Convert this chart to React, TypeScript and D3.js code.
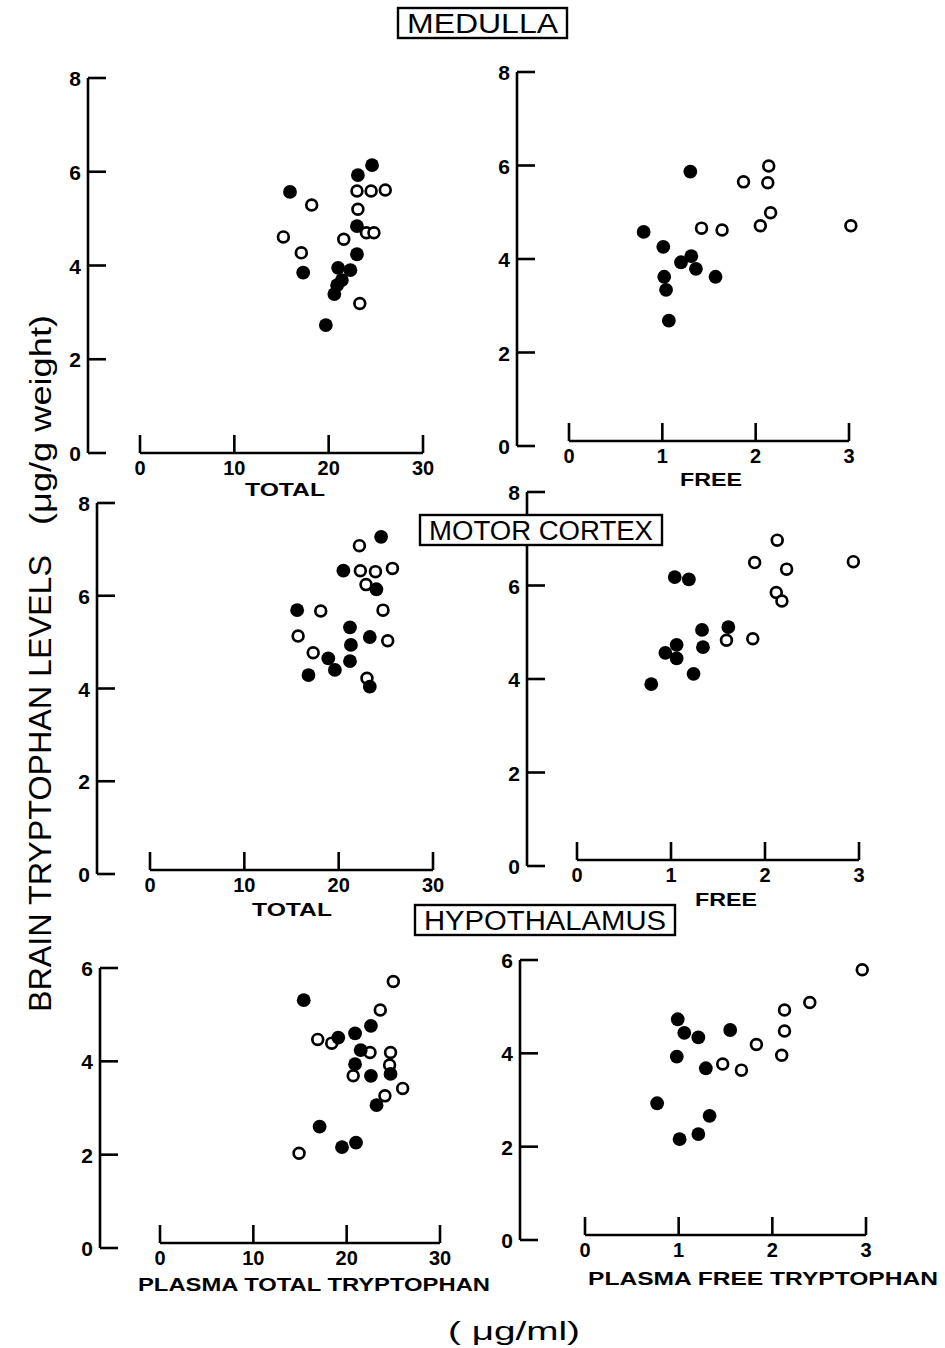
import React from "react";
import * as d3 from "d3";

// ---- data (x = plasma tryptophan µg/ml, y = brain tryptophan µg/g) ----
const medullaTotalFilled: [number, number][] = [
  [24.6, 6.14], [23.1, 5.93], [15.9, 5.57], [23.0, 4.84], [23.0, 4.24], [21.0, 3.95],
  [22.3, 3.9], [17.3, 3.85], [21.4, 3.69], [20.9, 3.58], [20.6, 3.39], [19.7, 2.73],
];
const medullaTotalOpen: [number, number][] = [
  [23.0, 5.59], [24.5, 5.59], [26.0, 5.61], [18.2, 5.29], [23.1, 5.2], [24.0, 4.7],
  [24.8, 4.7], [15.2, 4.61], [21.6, 4.56], [17.1, 4.27], [23.3, 3.19],
];
const medullaFreeFilled: [number, number][] = [
  [1.3, 5.87], [0.8, 4.58], [1.01, 4.26], [1.31, 4.06], [1.2, 3.93], [1.36, 3.79],
  [1.57, 3.62], [1.02, 3.62], [1.04, 3.34], [1.07, 2.68],
];
const medullaFreeOpen: [number, number][] = [
  [2.14, 5.99], [2.13, 5.63], [1.87, 5.65], [2.16, 4.99], [2.05, 4.71], [1.42, 4.66],
  [1.64, 4.62], [3.02, 4.71],
];
const motorTotalFilled: [number, number][] = [
  [24.5, 7.27], [20.5, 6.54], [24.0, 6.14], [15.6, 5.69], [21.2, 5.32], [23.3, 5.11],
  [21.3, 4.94], [18.9, 4.65], [19.6, 4.4], [21.2, 4.59], [16.8, 4.29], [23.3, 4.04],
];
const motorTotalOpen: [number, number][] = [
  [22.2, 7.08], [22.3, 6.54], [23.9, 6.52], [25.7, 6.59], [22.9, 6.24], [18.1, 5.67],
  [24.7, 5.69], [15.7, 5.13], [25.2, 5.03], [17.3, 4.77], [23.0, 4.22],
];
const motorFreeFilled: [number, number][] = [
  [1.04, 6.18], [1.19, 6.13], [1.61, 5.11], [1.33, 5.05], [1.06, 4.73], [1.34, 4.68],
  [0.94, 4.56], [1.06, 4.44], [1.24, 4.11], [0.79, 3.89],
];
const motorFreeOpen: [number, number][] = [
  [2.13, 6.97], [1.89, 6.49], [2.94, 6.51], [2.23, 6.35], [2.12, 5.85], [2.18, 5.67],
  [1.59, 4.83], [1.87, 4.86],
];
const hypoTotalFilled: [number, number][] = [
  [15.4, 5.31], [19.1, 4.51], [20.9, 4.6], [22.6, 4.76], [21.5, 4.24], [20.9, 3.94],
  [22.6, 3.69], [24.7, 3.73], [23.2, 3.06], [17.1, 2.6], [19.5, 2.16], [21.0, 2.26],
];
const hypoTotalOpen: [number, number][] = [
  [25.0, 5.71], [23.6, 5.1], [16.9, 4.47], [18.4, 4.39], [22.5, 4.19], [24.7, 4.19],
  [24.6, 3.92], [20.7, 3.69], [26.0, 3.42], [24.1, 3.26], [14.9, 2.03],
];
const hypoFreeFilled: [number, number][] = [
  [0.99, 4.73], [1.06, 4.44], [1.21, 4.34], [1.55, 4.5], [0.98, 3.93], [1.29, 3.68],
  [0.77, 2.93], [1.33, 2.66], [1.21, 2.27], [1.01, 2.16],
];
const hypoFreeOpen: [number, number][] = [
  [2.96, 5.79], [2.4, 5.09], [2.13, 4.93], [2.13, 4.48], [1.83, 4.19], [2.1, 3.96],
  [1.47, 3.77], [1.67, 3.64],
];

const totalTicks = [0, 10, 20, 30];
const freeTicks = [0, 1, 2, 3];
const yTicks8 = [0, 2, 4, 6, 8];
const yTicks6 = [0, 2, 4, 6];

const regionTitles = ["MEDULLA", "MOTOR CORTEX", "HYPOTHALAMUS"];
const xTitles = ["TOTAL", "FREE", "TOTAL", "FREE", "PLASMA TOTAL TRYPTOPHAN", "PLASMA FREE TRYPTOPHAN"];
const yTitleMain = "BRAIN TRYPTOPHAN LEVELS";
const yTitleUnit = "(\u03BCg/g  weight)";
const xUnit = "( \u03BCg/ml)";

// ---- layout ----
type PanelCfg = {
  filled: [number, number][];
  open: [number, number][];
  xTicks: number[];
  yTicks: number[];
  yAxisX: number; yBottom: number; yTop: number;
  xAxisY: number; xLeft: number; xRight: number;
  title: string; titleX: number; titleY: number; titleLen: number;
};

const panels: PanelCfg[] = [
  { filled: medullaTotalFilled, open: medullaTotalOpen, xTicks: totalTicks, yTicks: yTicks8,
    yAxisX: 88, yBottom: 453, yTop: 78, xAxisY: 453, xLeft: 140, xRight: 423,
    title: xTitles[0], titleX: 285, titleY: 496, titleLen: 80 },
  { filled: medullaFreeFilled, open: medullaFreeOpen, xTicks: freeTicks, yTicks: yTicks8,
    yAxisX: 517, yBottom: 446, yTop: 72, xAxisY: 441, xLeft: 569, xRight: 849,
    title: xTitles[1], titleX: 711, titleY: 486, titleLen: 62 },
  { filled: motorTotalFilled, open: motorTotalOpen, xTicks: totalTicks, yTicks: yTicks8,
    yAxisX: 97, yBottom: 874, yTop: 503, xAxisY: 870, xLeft: 150, xRight: 433,
    title: xTitles[2], titleX: 292, titleY: 916, titleLen: 80 },
  { filled: motorFreeFilled, open: motorFreeOpen, xTicks: freeTicks, yTicks: yTicks8,
    yAxisX: 527, yBottom: 866, yTop: 492, xAxisY: 860, xLeft: 577, xRight: 859,
    title: xTitles[3], titleX: 726, titleY: 906, titleLen: 62 },
  { filled: hypoTotalFilled, open: hypoTotalOpen, xTicks: totalTicks, yTicks: yTicks6,
    yAxisX: 100, yBottom: 1248, yTop: 968, xAxisY: 1243, xLeft: 160, xRight: 440,
    title: xTitles[4], titleX: 314, titleY: 1291, titleLen: 352 },
  { filled: hypoFreeFilled, open: hypoFreeOpen, xTicks: freeTicks, yTicks: yTicks6,
    yAxisX: 520, yBottom: 1240, yTop: 960, xAxisY: 1235, xLeft: 585, xRight: 866,
    title: xTitles[5], titleX: 763, titleY: 1285, titleLen: 350 },
];

const boxes = [
  { text: regionTitles[0], x: 398, y: 8, w: 169, h: 30 },
  { text: regionTitles[1], x: 420, y: 515, w: 242, h: 30 },
  { text: regionTitles[2], x: 415, y: 905, w: 260, h: 30 },
];

const FONT = "'Liberation Sans', Arial, sans-serif";
const SW = 2.6;

function Panel({ p }: { p: PanelCfg }) {
  const xMax = p.xTicks[p.xTicks.length - 1];
  const yMax = p.yTicks[p.yTicks.length - 1];
  const x = d3.scaleLinear().domain([0, xMax]).range([p.xLeft, p.xRight]);
  const y = d3.scaleLinear().domain([0, yMax]).range([p.yBottom, p.yTop]);
  return (
    <g>
      {/* y axis */}
      <line x1={p.yAxisX} x2={p.yAxisX} y1={y(0)} y2={y(yMax)} stroke="#000" strokeWidth={SW} />
      {p.yTicks.map((t) => (
        <g key={"yt" + t}>
          <line x1={p.yAxisX} x2={p.yAxisX + 18} y1={y(t)} y2={y(t)} stroke="#000" strokeWidth={SW} />
          <text x={p.yAxisX - 7} y={y(t) + 8} textAnchor="end" fontFamily={FONT} fontWeight="bold" fontSize={21}>
            {t}
          </text>
        </g>
      ))}
      {/* x axis */}
      <line x1={x(0)} x2={x(xMax)} y1={p.xAxisY} y2={p.xAxisY} stroke="#000" strokeWidth={SW} />
      {p.xTicks.map((t) => (
        <g key={"xt" + t}>
          <line x1={x(t)} x2={x(t)} y1={p.xAxisY} y2={p.xAxisY - 18} stroke="#000" strokeWidth={SW} />
          <text x={x(t)} y={p.xAxisY + 22} textAnchor="middle" fontFamily={FONT} fontWeight="bold" fontSize={20}>
            {t}
          </text>
        </g>
      ))}
      <text
        x={p.titleX}
        y={p.titleY}
        textAnchor="middle"
        fontFamily={FONT}
        fontWeight="bold"
        fontSize={19}
        textLength={p.titleLen}
        lengthAdjust="spacingAndGlyphs"
      >
        {p.title}
      </text>
      {/* points */}
      {p.open.map((d, i) => (
        <circle key={"o" + i} cx={x(d[0])} cy={y(d[1])} r={5.4} fill="#fff" stroke="#000" strokeWidth={2.7} />
      ))}
      {p.filled.map((d, i) => (
        <circle key={"f" + i} cx={x(d[0])} cy={y(d[1])} r={6.9} fill="#000" />
      ))}
    </g>
  );
}

export default function App() {
  return (
    <svg
      width={945}
      height={1348}
      style={{ position: "absolute", left: 0, top: 0, background: "#fff", display: "block" }}
    >
      <rect x={0} y={0} width={945} height={1348} fill="#fff" />
      {panels.map((p, i) => (
        <Panel key={i} p={p} />
      ))}
      {boxes.map((b) => (
        <g key={b.text}>
          <rect x={b.x} y={b.y} width={b.w} height={b.h} fill="#fff" stroke="#000" strokeWidth={2.4} />
          <text
            x={b.x + b.w / 2}
            y={b.y + b.h / 2 + 9.5}
            textAnchor="middle"
            fontFamily={FONT}
            fontSize={27}
            textLength={b.w - 18}
            lengthAdjust="spacingAndGlyphs"
          >
            {b.text}
          </text>
        </g>
      ))}
      <g transform="translate(51,0) rotate(-90)">
        <text x={-1012} y={0} fontFamily={FONT} fontSize={32} textLength={457} lengthAdjust="spacingAndGlyphs">
          {yTitleMain}
        </text>
        <text x={-525} y={0} fontFamily={FONT} fontSize={30} textLength={210} lengthAdjust="spacingAndGlyphs">
          {yTitleUnit}
        </text>
      </g>
      <text x={514} y={1340} textAnchor="middle" fontFamily={FONT} fontSize={25} textLength={132} lengthAdjust="spacingAndGlyphs">
        {xUnit}
      </text>
    </svg>
  );
}
